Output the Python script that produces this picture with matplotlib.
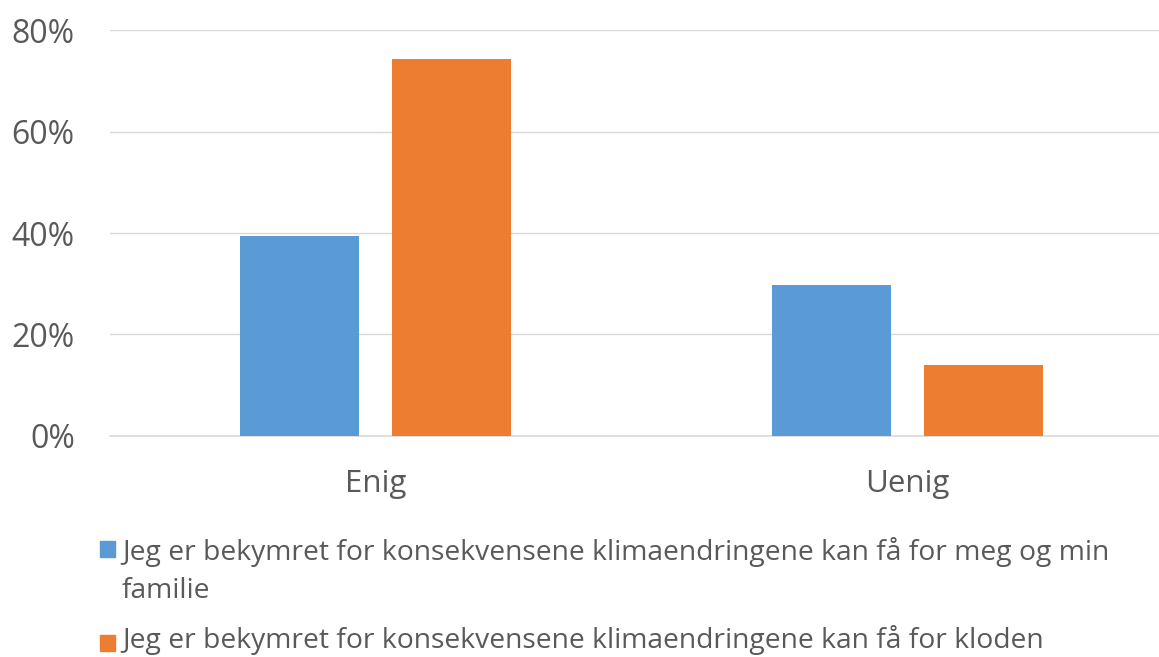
import matplotlib.pyplot as plt
import numpy as np
from matplotlib.patches import Rectangle

categories = ['Enig', 'Uenig']
series_names = [
    'Jeg er bekymret for konsekvensene klimaendringene kan få for meg og min\nfamilie',
    'Jeg er bekymret for konsekvensene klimaendringene kan få for kloden',
]
familie = [39.5, 29.8]
kloden = [74.3, 14.0]
y_ticks = [0, 20, 40, 60, 80]
y_labels = ['0%', '20%', '40%', '60%', '80%']

colors = ['#5B9BD5', '#ED7D31']
text_color = '#595959'
grid_color = '#D9D9D9'

plt.rcParams['font.family'] = ['Open Sans', 'DejaVu Sans']

fig = plt.figure(figsize=(11.59, 6.57), dpi=100)
ax = fig.add_axes([0.0945, 0.3364, 0.918, 0.6179])

x = np.arange(len(categories))
width = 0.2237
offset = 0.1425
ax.bar(x - offset, familie, width, color=colors[0], zorder=3)
ax.bar(x + offset, kloden, width, color=colors[1], zorder=3)

ax.set_xlim(-0.5, 1.5)
ax.set_ylim(0, 80)
ax.set_yticks(y_ticks)
ax.set_yticklabels(y_labels)
ax.set_xticks(x)
ax.set_xticklabels(categories)
ax.tick_params(axis='y', length=0, pad=25, labelsize=23, labelcolor=text_color)
ax.tick_params(axis='x', length=0, pad=24, labelsize=22.5, labelcolor=text_color)
ax.grid(axis='y', color=grid_color, linewidth=1.0, zorder=0)
for side in ['left', 'right', 'top']:
    ax.spines[side].set_visible(False)
ax.spines['bottom'].set_color(grid_color)
ax.spines['bottom'].set_linewidth(1.2)

# legend drawn by hand: square on the first line, wrapped lines below it
W, H = 1159, 657
legend_rows = [(560, 541, series_names[0]), (648, 635, series_names[1])]
for (baseline, sq_top, name), c in zip(legend_rows, colors):
    fig.patches.append(Rectangle((100 / W, 1 - (sq_top + 16) / H), 15 / W, 16 / H,
                                 transform=fig.transFigure, color=c))
    for i, line in enumerate(name.split('\n')):
        fig.text(122 / W, 1 - (baseline + 38 * i) / H, line, fontsize=20.3,
                 color=text_color, va='baseline', ha='left')

fig.savefig('out.png', dpi=100)
